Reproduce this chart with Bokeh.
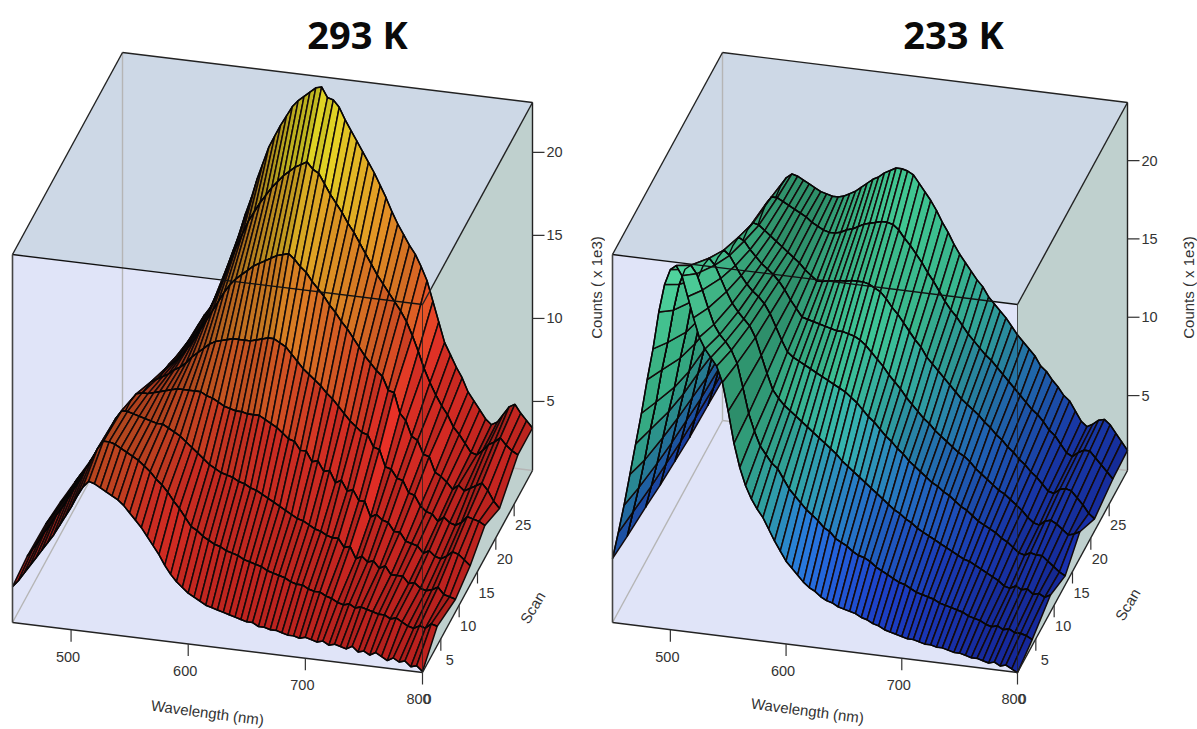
from bokeh.plotting import figure
from bokeh.layouts import row
from bokeh.models import ColumnDataSource, Range1d
from bokeh.core.properties import value
from bokeh.embed import file_html
from bokeh.resources import INLINE

WAVELENGTHS = list(range(450, 805, 5))
SCANS = [0, 4, 9, 13, 17, 21, 26, 30]
WL_TICKS = [500, 600, 700, 800]
SCAN_TICKS = [0, 5, 10, 15, 20, 25]
Z_TICKS = [5, 10, 15, 20]

# 293 K, counts x 1e3, one list per scan
K293_S00 = [3.0,3.4,3.9,4.4,4.9,5.4,5.9,6.4,7.0,7.6,
8.2,8.9,9.5,9.9,9.8,9.6,9.4,9.2,9.0,8.7,
8.3,7.9,7.5,7.0,6.5,6.0,5.4,4.9,4.5,4.2,
3.9,3.7,3.5,3.3,3.2,3.1,3.0,2.9,2.8,2.7,
2.6,2.6,2.4,2.4,2.3,2.3,2.2,2.1,2.1,2.0,
2.1,2.0,1.9,2.0,1.8,1.9,1.8,1.7,1.9,1.6,
1.7,1.5,1.7,1.5,1.3,1.5,1.3,1.4,1.1,1.2,0.9]
K293_S04 = [3.2,3.7,4.2,4.8,5.3,5.9,6.4,7.0,7.6,8.2,
8.9,9.5,10.2,10.7,10.7,10.6,10.4,10.2,10.0,9.8,
9.5,9.2,8.8,8.5,8.1,7.6,7.2,6.7,6.2,6.0,
5.7,5.5,5.3,5.2,5.0,4.9,4.8,4.6,4.5,4.4,
4.3,4.1,4.0,3.9,3.8,3.6,3.5,3.5,3.3,3.2,
3.2,3.0,2.9,2.7,2.6,2.7,2.5,2.6,2.5,2.4,
2.3,2.3,2.1,2.2,2.0,1.8,1.7,1.9,1.8,2.1,2.0]
K293_S09 = [3.1,3.6,4.1,4.6,5.1,5.7,6.2,6.7,7.3,8.0,
8.6,9.3,10.0,10.5,10.5,10.4,10.3,10.2,10.1,10.0,
10.0,9.8,9.6,9.4,9.1,8.8,8.5,8.2,7.9,7.7,
7.5,7.4,7.3,7.1,7.0,6.8,6.7,6.5,6.3,6.1,
5.9,5.7,5.5,5.3,5.2,5.0,4.8,4.7,4.5,4.4,
4.4,3.9,4.0,3.3,3.5,3.2,3.3,2.9,3.1,2.6,
2.6,2.6,2.2,2.3,2.0,1.9,2.0,2.2,1.8,1.7,1.6]
K293_S13 = [2.8,3.2,3.8,4.2,4.7,5.2,5.8,6.3,6.9,7.5,
8.1,8.7,9.4,9.9,10.0,10.0,10.1,10.2,10.3,10.4,
10.5,10.5,10.5,10.5,10.5,10.3,10.2,10.0,9.8,9.7,
9.6,9.6,9.5,9.5,9.5,9.3,9.1,8.9,8.6,8.3,
8.2,7.7,7.7,7.1,7.2,6.6,6.7,6.0,6.2,5.6,
5.7,5.1,5.1,4.2,4.4,4.1,4.0,3.5,3.5,3.0,
2.9,2.8,2.4,2.6,2.3,2.2,2.4,2.7,2.6,2.3,2.0]
K293_S17 = [2.4,2.9,3.3,3.8,4.2,4.7,5.2,5.7,6.2,6.7,
7.3,7.9,8.5,9.0,9.2,9.4,9.6,9.9,10.1,10.4,
10.8,11.1,11.4,11.7,11.9,12.0,12.1,12.2,12.2,12.2,
12.2,12.3,12.4,12.5,12.5,12.3,12.1,11.7,11.3,10.9,
10.6,10.3,10.0,9.6,9.3,8.9,8.5,8.1,7.8,7.5,
7.4,6.7,6.6,5.6,5.5,5.0,4.9,4.2,4.1,3.5,
3.2,3.1,2.7,3.0,2.7,2.6,2.8,3.2,3.1,3.0,2.8]
K293_S21 = [2.0,2.4,2.8,3.2,3.7,4.1,4.6,5.0,5.5,6.0,
6.5,7.0,7.6,8.2,8.5,8.8,9.2,9.7,10.2,10.8,
11.4,12.0,12.6,13.2,13.7,14.1,14.4,14.7,15.0,15.2,
15.4,15.6,15.8,15.9,16.0,15.7,15.3,15.0,14.5,14.1,
13.7,13.2,12.8,12.3,11.9,11.4,10.9,10.4,10.0,9.6,
9.3,8.5,8.4,7.2,6.8,5.9,5.7,4.9,4.8,3.9,
3.7,3.4,3.0,3.3,3.0,3.2,3.4,3.6,3.2,2.6,2.2]
K293_S26 = [1.7,2.1,2.4,2.8,3.2,3.6,4.0,4.4,4.9,5.3,
5.7,6.2,6.8,7.4,7.8,8.3,8.9,9.6,10.4,11.2,
12.1,13.0,13.9,14.7,15.5,16.1,16.7,17.2,17.7,18.1,
18.5,18.8,19.1,19.3,19.5,19.1,18.9,18.3,17.7,17.2,
16.7,16.1,15.6,15.0,14.4,13.8,13.2,12.7,12.2,11.7,
11.2,10.6,9.8,8.9,7.9,7.1,6.4,5.8,5.3,4.6,
4.2,3.7,3.2,3.1,3.4,3.8,4.0,4.3,3.9,3.6,3.4]
K293_S30 = [1.5,1.8,2.2,2.6,3.0,3.3,3.7,4.1,4.6,5.0,
5.5,6.0,6.5,7.2,7.8,8.3,9.0,9.9,11.0,12.0,
13.0,14.2,15.2,16.4,17.4,18.4,19.1,19.8,20.4,21.0,
21.4,21.7,22.0,22.3,22.4,21.8,21.7,21.3,20.6,20.0,
19.4,18.8,18.2,17.6,16.9,16.2,15.4,14.7,14.1,13.5,
13.0,12.3,11.5,10.3,9.1,7.9,7.2,6.5,5.9,5.1,
4.6,4.1,3.6,3.3,3.5,4.0,4.5,4.7,4.2,3.8,3.4]

# 233 K
K233_S00 = [4.3,6.0,7.8,9.8,11.8,13.8,16.0,18.0,20.4,22.2,
23.2,23.5,22.9,21.6,20.3,19.1,18.4,17.9,17.4,16.4,
14.6,12.6,11.1,10.0,9.2,8.6,8.1,7.4,6.7,6.1,
5.5,5.1,4.7,4.3,4.0,3.8,3.5,3.3,3.2,3.0,
2.9,2.8,2.7,2.5,2.4,2.2,2.1,1.9,1.8,1.7,
1.6,1.5,1.5,1.4,1.3,1.3,1.2,1.2,1.1,1.0,
1.0,0.9,0.8,0.8,0.7,0.6,0.7,0.5,0.6,0.4,0.2]
K233_S04 = [4.0,5.6,7.2,9.0,11.0,12.8,14.9,16.7,18.8,20.5,
21.5,21.8,21.3,20.3,19.2,18.2,17.6,17.2,16.7,15.9,
14.4,12.8,11.7,10.8,10.3,9.8,9.5,8.9,8.3,7.9,
7.5,7.1,6.8,6.5,6.1,5.9,5.5,5.3,5.1,4.8,
4.6,4.5,4.3,4.0,3.8,3.6,3.4,3.2,3.1,2.9,
2.7,2.6,2.5,2.4,2.2,2.1,2.0,1.9,1.8,1.6,
1.5,1.4,1.2,1.1,1.2,1.0,1.1,0.9,0.9,0.8,0.6]
K233_S09 = [3.7,5.1,6.6,8.3,10.0,11.6,13.5,15.2,17.2,18.7,
19.6,20.1,19.7,18.9,18.1,17.4,16.9,16.5,16.1,15.4,
14.3,13.2,12.2,11.7,11.3,11.0,10.7,10.4,10.1,9.8,
9.5,9.2,8.9,8.6,8.2,7.9,7.6,7.3,7.0,6.7,
6.4,6.1,5.8,5.5,5.3,5.0,4.8,4.5,4.3,4.1,
3.9,3.7,3.5,3.3,3.1,2.9,2.8,2.6,2.4,2.2,
2.0,1.8,1.5,1.4,1.6,1.4,1.5,1.2,1.3,1.1,1.3]
K233_S13 = [3.4,4.8,6.2,7.8,9.4,10.9,12.7,14.4,16.3,17.6,
18.4,18.9,18.6,18.0,17.4,16.9,16.5,16.2,15.8,15.2,
14.4,13.6,12.9,12.6,12.4,12.2,12.0,11.8,11.6,11.4,
11.2,11.0,10.8,10.5,10.2,9.8,9.4,9.1,8.7,8.3,
8.0,7.6,7.3,6.9,6.6,6.3,6.0,5.7,5.5,5.2,
5.0,4.7,4.4,4.2,3.9,3.6,3.4,3.2,3.0,2.7,
2.5,2.2,1.9,1.8,2.0,1.9,1.9,1.6,1.3,1.0,0.8]
K233_S17 = [3.2,4.5,5.9,7.4,9.0,10.5,12.1,13.7,15.3,16.5,
17.4,18.0,17.8,17.3,16.9,16.5,16.2,15.9,15.5,15.0,
14.4,13.9,13.4,13.3,13.2,13.1,13.0,12.9,12.8,12.8,
12.7,12.6,12.4,12.1,11.7,11.3,10.9,10.4,10.0,9.6,
9.1,8.7,8.3,7.9,7.6,7.2,6.9,6.6,6.3,6.0,
5.8,5.5,5.1,4.8,4.5,4.2,3.9,3.7,3.4,3.1,
2.8,2.4,2.1,2.0,2.3,2.4,2.2,1.9,1.6,1.7,1.9]
K233_S21 = [3.0,4.3,5.6,7.0,8.5,9.9,11.5,13.0,14.5,15.8,
16.7,17.2,17.1,16.8,16.5,16.2,15.9,15.6,15.3,15.0,
14.6,14.3,14.0,14.0,14.1,14.1,14.2,14.2,14.3,14.3,
14.3,14.2,14.0,13.8,13.4,12.9,12.5,12.0,11.5,11.0,
10.6,10.0,9.6,9.2,8.8,8.4,8.0,7.6,7.3,7.0,
6.7,6.3,6.0,5.6,5.3,4.9,4.6,4.2,3.9,3.5,
3.2,2.8,2.4,2.3,2.6,2.7,2.6,2.2,1.8,1.3,1.0]
K233_S26 = [2.9,4.1,5.4,6.8,8.3,9.7,11.2,12.6,14.0,15.2,
16.2,16.7,16.7,16.5,16.3,16.1,15.9,15.7,15.4,15.2,
15.0,14.9,14.9,15.0,15.2,15.3,15.5,15.7,15.8,15.9,
16.0,16.0,15.9,15.6,15.1,14.7,14.2,13.7,13.1,12.6,
12.0,11.4,10.9,10.5,10.0,9.5,9.1,8.7,8.3,8.0,
7.6,7.2,6.8,6.4,6.0,5.6,5.2,4.9,4.5,4.0,
3.7,3.2,2.7,2.5,2.8,3.0,3.0,2.6,2.2,1.8,1.4]
K233_S30 = [2.8,4.0,5.2,6.5,8.0,9.5,11.0,12.4,13.6,14.7,
15.6,16.2,16.5,16.4,16.2,16.0,15.8,15.6,15.5,15.4,
15.4,15.5,15.7,15.9,16.2,16.5,16.8,17.0,17.3,17.5,
17.7,17.7,17.6,17.4,16.9,16.4,15.9,15.3,14.6,14.0,
13.3,12.7,12.2,11.7,11.2,10.8,10.2,9.8,9.4,9.0,
8.5,8.0,7.6,7.2,6.8,6.2,5.9,5.4,5.0,4.5,
4.2,3.6,3.0,2.7,2.9,3.2,3.3,3.0,2.5,2.0,1.5]

K293 = [K293_S00, K293_S04, K293_S09, K293_S13, K293_S17, K293_S21, K293_S26, K293_S30]
K233 = [K233_S00, K233_S04, K233_S09, K233_S13, K233_S17, K233_S21, K233_S26, K233_S30]

RAMP_293 = [(0,(235,40,38)),(8,(235,52,40)),(12,(238,118,40)),(16,(244,172,40)),(20,(244,228,40)),(24,(240,250,40))]
RAMP_233 = [(0,(32,55,225)),(3,(36,82,248)),(6,(45,140,240)),(9,(60,200,200)),(12,(72,230,178)),(16,(74,228,168)),(24,(100,255,190))]


def ramp_color(ramp, z, shade):
    for (z0, c0), (z1, c1) in zip(ramp, ramp[1:]):
        if z <= z1:
            t = max(0.0, (z - z0) / (z1 - z0))
            break
    rgb = [(a + (b - a) * t) * shade for a, b in zip(c0, c1)]
    return "#%02x%02x%02x" % tuple(int(min(255, max(0, v))) for v in rgb)


def panel(width, xr, title, title_x, rows, ramp, g, count_label_x):
    p = figure(width=width, height=729, x_range=Range1d(*xr), y_range=Range1d(729, 0),
               output_backend="svg", toolbar_location=None, min_border=0,
               outline_line_color=None, border_fill_color="white", background_fill_color="white")
    p.axis.visible = False
    p.grid.visible = False
    x0, y0, ux, uy, vx, vy, sz, zb = g["x0"], g["y0"], g["ux"], g["uy"], g["vx"], g["vy"], g["sz"], g["zb"]
    h = 368

    def prj(w, s, z=None):
        u = (w - 450) / 350
        v = s / 30
        zz = zb if z is None else z
        return x0 + ux * u + vx * v, y0 + uy * u + vy * v - sz * (zz - zb)

    fl, fr, bl, br = prj(450, 0), prj(800, 0), prj(450, 30), prj(800, 30)
    up = lambda q: (q[0], q[1] - h)
    def face(pts, col):
        p.patch([q[0] for q in pts], [q[1] for q in pts], fill_color=col, line_color=None)
    def seg(a, b, col="#222222", w=1.4, alpha=1.0):
        p.line([a[0], b[0]], [a[1], b[1]], line_color=col, line_width=w, line_alpha=alpha)

    face([up(fl), up(bl), up(br), up(fr)], "#cdd8e6")
    face([up(fl), up(fr), fr, fl], "#e0e4f8")
    face([up(fr), up(br), br, fr], "#bfd0ce")
    seg(up(bl), bl, "#b5b5b5", 1.4)
    seg(bl, fl, "#b5b5b5", 1.4)
    seg(bl, br, "#b5b5b5", 1.4)

    # surface, far scans first, low wavelengths first inside a band
    for i in range(len(SCANS) - 2, -1, -1):
        xs, ys, cols = [], [], []
        s0, s1 = SCANS[i], SCANS[i + 1]
        for j in range(len(WAVELENGTHS) - 1):
            w0, w1 = WAVELENGTHS[j], WAVELENGTHS[j + 1]
            za, zb_, zc, zd = rows[i][j], rows[i][j + 1], rows[i + 1][j + 1], rows[i + 1][j]
            pts = [prj(w0, s0, za), prj(w1, s0, zb_), prj(w1, s1, zc), prj(w0, s1, zd)]
            xs.append([q[0] for q in pts])
            ys.append([q[1] for q in pts])
            dzdw = ((zb_ - za) + (zc - zd)) / 2
            dzds = ((zd - za) + (zc - zb_)) / 2 / (s1 - s0)
            tilt = abs(dzds) if g["abs"] else dzds
            shade = g["base"] - g["a"] * dzdw + g["b"] * tilt
            shade = min(1.05, max(0.45, shade))
            cols.append(ramp_color(ramp, (za + zb_ + zc + zd) / 4, shade))
        src = ColumnDataSource(dict(xs=xs, ys=ys, c=cols))
        p.patches("xs", "ys", source=src, fill_color="c", line_color="#140a0a", line_width=g["lw"])
        for k in (i + 1, i):
            line_pts = [prj(w, SCANS[k], z) for w, z in zip(WAVELENGTHS, rows[k])]
            p.line([q[0] for q in line_pts], [q[1] for q in line_pts], line_color="#060606", line_width=1.4)

    # box edges
    seg(up(fl), up(bl)); seg(up(bl), up(br)); seg(up(br), up(fr))
    seg(up(fl), up(fr), "#111111", 1.3)
    seg(up(fr), fr, "#222222", 1.0, 0.75)
    seg(up(br), br); seg(fr, br); seg(fl, fr); seg(up(fl), fl, "#444444", 1.6)

    font = value("Liberation Sans")
    def txt(x, y, t, size="14.5px", angle=0, align="center"):
        p.text([x], [y], text=[t], text_font=font, text_font_size=size, text_color="#333333",
               text_align=align, text_baseline="middle", angle=angle)

    for w in WL_TICKS:
        q = prj(w, 0)
        seg(q, (q[0], q[1] + 12), "#333333", 1.2)
        txt(q[0] - 3 if w < 800 else q[0] - 4, q[1] + 27 if w < 800 else q[1] + 26, str(w))
    for s in SCAN_TICKS:
        q = prj(800, s)
        if s == 0:
            txt(q[0] + 5, q[1] + 26, "0")
            continue
        seg(q, (q[0], q[1] + 12), "#333333", 1.2)
        txt(q[0] + 9, q[1] + 21, str(s))
    for z in Z_TICKS:
        q = prj(800, 30, z)
        seg(q, (q[0] + 12, q[1]), "#333333", 1.2)
        txt(q[0] + 14, q[1], str(z), align="left")
    txt(fl[0] + 195, g["wl_y"], "Wavelength (nm)", "15px", angle=-0.13)
    txt(br[0], g["scan_y"], "Scan", "15px", angle=1.03)
    txt(count_label_x, 287, "Counts ( x 1e3)", "15px", angle=1.5708)
    p.text([title_x], [33], text=[title], text_font=value("Open Sans"), text_font_style="bold",
           text_font_size="38px", text_color="#0a0a0a", text_align="center", text_baseline="middle")
    return p


G293 = dict(x0=12, y0=622, ux=410, uy=50, vx=110, vy=-202, sz=16.6, zb=0.84, base=0.74, a=0.18, b=0.12, lw=1.5, abs=False, wl_y=712, scan_y=607)
G233 = dict(x0=612, y0=622, ux=405, uy=50, vx=110, vy=-202, sz=15.67, zb=0.22, base=0.62, a=0.0, b=0.55, lw=1.5, abs=True, wl_y=710, scan_y=604)

left = panel(605, (0, 605), "293 K", 357, K293, RAMP_293, G293, 596)
right = panel(592, (605, 1197), "233 K", 953, K233, RAMP_233, G233, 1188)
page = row(left, right, spacing=0)
open("out.html", "w").write(file_html(page, INLINE))
